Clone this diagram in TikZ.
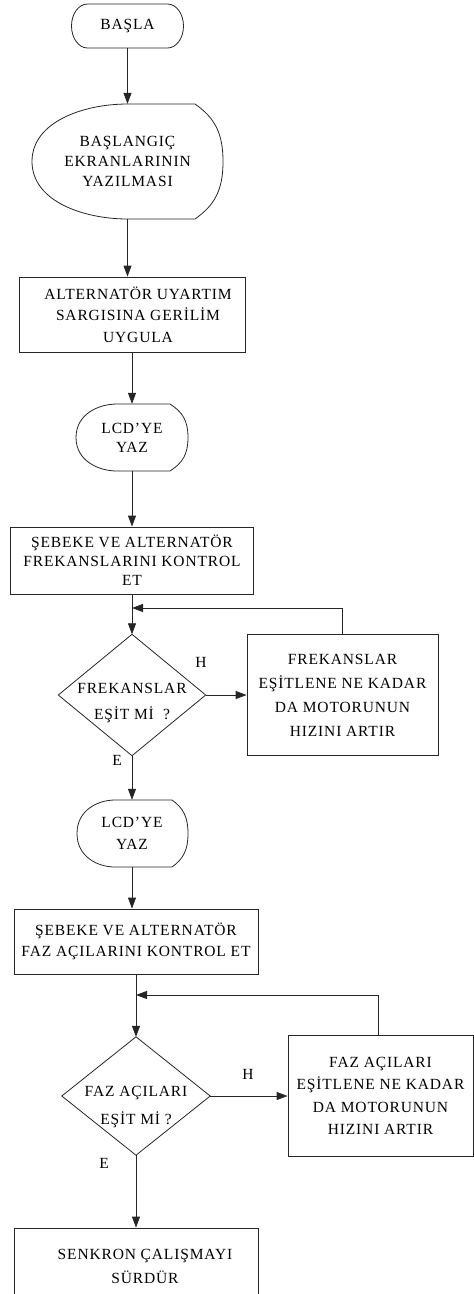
\documentclass[tikz,border=0pt]{standalone}
\usepackage{fontspec}
\setmainfont{Liberation Serif}[LetterSpace=5.5]
\usetikzlibrary{arrows.meta}
% #1 top, #2 bottom, #3 left extreme, #4 right extreme, #5 flat start, #6 flat end
\newcommand{\drawdisplay}[6]{%
  \draw[lnk] (#5,#1) -- (#6,#1)
    .. controls ({#6+0.7*(#4-#6)},{#1+0.12*(#2-#1)}) and (#4,{#1+0.25*(#2-#1)}) .. (#4,{0.5*(#1+#2)})
    .. controls (#4,{#2-0.25*(#2-#1)}) and ({#6+0.7*(#4-#6)},{#2-0.12*(#2-#1)}) .. (#6,#2)
    -- (#5,#2)
    .. controls ({#5-0.45*(#5-#3)},#2) and (#3,{#2-0.15*(#2-#1)}) .. (#3,{0.5*(#1+#2)})
    .. controls (#3,{#1+0.15*(#2-#1)}) and ({#5-0.45*(#5-#3)},#1) .. cycle;}
\begin{document}
\begin{tikzpicture}[x=1pt,y=-1pt,
  lnk/.style={draw=black!85, line width=0.8pt},
  arr/.style={lnk, -{Triangle[length=11pt,width=8pt]}},
  ls/.style={font=\fontsize{15.5pt}{#1pt}\selectfont},
  box/.style={lnk, rectangle, inner sep=0pt, align=center},
  txt/.style={rectangle, inner sep=0pt, align=center},
  lab/.style={inner sep=0pt, font=\fontsize{15.5pt}{18pt}\selectfont}]
\useasboundingbox (0,0) rectangle (474,1294);

% start terminal
\node[txt, ls=18, minimum width=112pt, minimum height=44pt] (start) at (127.5,26) {BAŞLA};
\draw[lnk] (87.5,4) -- (167.5,4)
  .. controls (176.3,4) and (183.5,13.8) .. (183.5,26)
  .. controls (183.5,38.2) and (176.3,48) .. (167.5,48)
  -- (87.5,48)
  .. controls (78.7,48) and (71.5,38.2) .. (71.5,26)
  .. controls (71.5,13.8) and (78.7,4) .. cycle;

% display 1
\node[txt, ls=20, minimum width=191pt, minimum height=115pt] (d1) at (127.5,161.5) {BAŞLANGIÇ\\EKRANLARININ\\YAZILMASI};
\drawdisplay{104}{219}{32}{223}{127.5}{195}

% box 1
\node[box, ls=21.5, minimum width=226pt, minimum height=75pt] (b1) at (132,314.5)
  {\hspace*{12pt}ALTERNATÖR UYARTIM\\\hspace*{12pt}SARGISINA GERİLİM\\\hspace*{12pt}UYGULA};

% display 2
\node[txt, ls=19, minimum width=112pt, minimum height=67pt] (d2) at (132,437.5) {LCD'YE\\YAZ};
\drawdisplay{404}{471}{76}{188}{117}{170}

% box 2
\node[box, ls=19, minimum width=243pt, minimum height=67pt] (b2) at (132,560.5)
  {ŞEBEKE VE ALTERNATÖR\\FREKANSLARINI KONTROL\\ET};

% decision 1
\node[txt, ls=26, minimum width=147pt, minimum height=121pt] (q1) at (132,695)
  {\rule{0pt}{25.8pt}FREKANSLAR\\EŞİT Mİ\hspace{0.6em}?};
\draw[lnk] (q1.north) -- (q1.east) -- (q1.south) -- (q1.west) -- cycle;

% box 3
\node[box, ls=24, minimum width=191pt, minimum height=121pt] (b3) at (342.5,695)
  {FREKANSLAR\\EŞİTLENE NE KADAR\\DA MOTORUNUN\\HIZINI ARTIR};

\node[lab] (h1) at (201,662) {H};
\node[lab] (e1) at (117,760) {E};

% display 3
\node[txt, ls=22, minimum width=111pt, minimum height=67pt] (d3) at (132,833.5) {LCD'YE\\YAZ};
\drawdisplay{800}{867}{77}{188}{115}{172}

% box 4
\node[box, ls=21, minimum width=244pt, minimum height=65pt] (b4) at (136,941.5)
  {ŞEBEKE VE ALTERNATÖR\\FAZ AÇILARINI KONTROL ET};

% decision 2
\node[txt, ls=28, minimum width=148pt, minimum height=118pt] (q2) at (136,1096)
  {\rule{0pt}{31.8pt}FAZ AÇILARI\\EŞİT Mİ ?};
\draw[lnk] (q2.north) -- (q2.east) -- (q2.south) -- (q2.west) -- cycle;

% box 5
\node[box, ls=22.5, minimum width=185pt, minimum height=121pt] (b5) at (380.5,1096)
  {FAZ AÇILARI\\EŞİTLENE NE KADAR\\DA MOTORUNUN\\HIZINI ARTIR};

\node[lab] (h2) at (248,1074) {H};
\node[lab] (e2) at (104,1163) {E};

% box 6
\node[box, ls=24, minimum width=244pt, minimum height=76pt] (b6) at (136,1266)
  {\hspace*{18pt}SENKRON ÇALIŞMAYI\\\hspace*{18pt}SÜRDÜR};

% connectors
\coordinate (j1) at (132,608);
\coordinate (j2) at (136,995);
\draw[arr] (start.south) -- (d1.north);
\draw[arr] (d1.south) -- (d1.south |- b1.north);
\draw[arr] (b1.south) -- (d2.north);
\draw[arr] (d2.south) -- (b2.north);
\draw[arr] (b2.south) -- (q1.north);
\draw[arr] (b3.north) |- (j1);
\draw[arr] (q1.east) -- (b3.west);
\draw[arr] (q1.south) -- (d3.north);
\draw[arr] (d3.south) -- (d3.south |- b4.north);
\draw[arr] (b4.south) -- (q2.north);
\draw[arr] ([xshift=-2.5pt]b5.north) |- (j2);
\draw[arr] (q2.east) -- (b5.west);
\draw[arr] (q2.south) -- (b6.north);
\end{tikzpicture}
\end{document}
